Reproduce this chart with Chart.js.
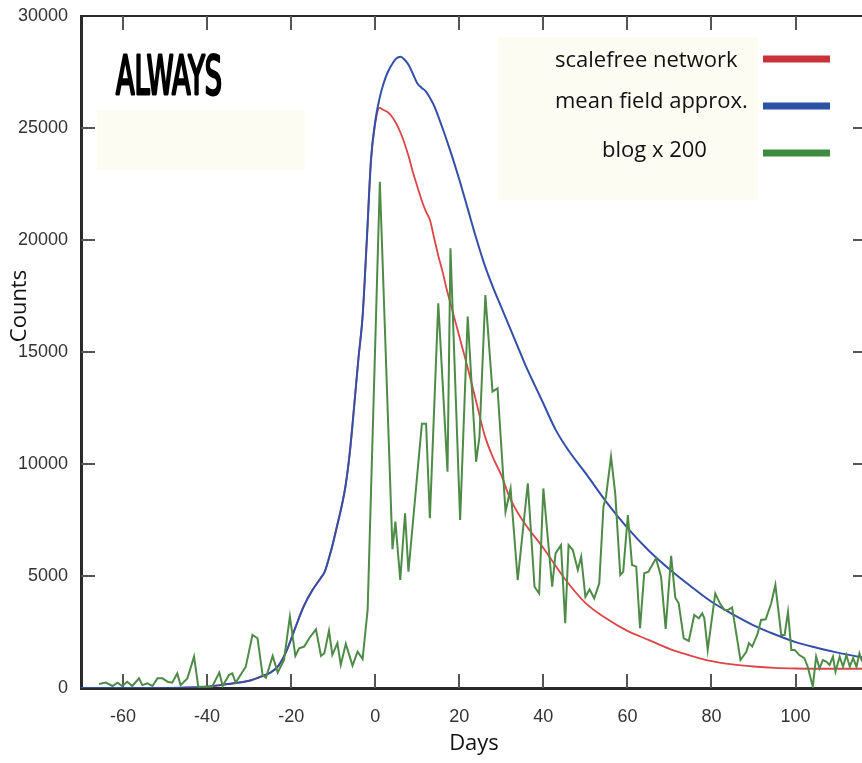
<!DOCTYPE html>
<html>
<head>
<meta charset="utf-8">
<title>ALWAYS</title>
<script src="https://cdn.jsdelivr.net/npm/chart.js@4.4.1/dist/chart.umd.min.js"></script>
<style>
  html, body { margin: 0; padding: 0; background: #fff; overflow: hidden; }
  #wrap { width: 875px; height: 763px; }
</style>
</head>
<body>
<div id="wrap"><canvas id="chart" width="875" height="763"></canvas></div>
<script>
// Panel label and axis ticks
const panelLabel = 'ALWAYS';
const dayTicks = [-60, -40, -20, 0, 20, 40, 60, 80, 100];
const countTicks = [0, 5000, 10000, 15000, 20000, 25000, 30000];

// Shared onset of both model curves (they coincide until the peak)
const onsetDays   = [-70, -50, -45, -40, -35, -30, -27, -25, -23, -21, -19, -17, -15, -13, -12, -11, -10, -9, -8, -7, -6, -5, -4, -3, -2, -1];
const onsetCounts = [0, 0, 20, 60, 180, 320, 520, 680, 1000, 1700, 2700, 3650, 4350, 4900, 5200, 5800, 6500, 7300, 8100, 9100, 10600, 12600, 14700, 16600, 20000, 23600];

// scalefree network (after onset)
const scalefreeDays   = [0, 1, 2, 3, 4, 5, 6, 7, 8, 9, 10, 11, 12, 13, 14, 15, 16, 17, 18, 19, 20, 22, 24, 26, 28, 30, 32, 35, 40, 45, 50, 55, 60, 65, 70, 75, 80, 85, 90, 95, 100, 105, 110, 117];
const scalefreeCounts = [25200, 25900, 25800, 25700, 25500, 25200, 24800, 24300, 23700, 23000, 22400, 21800, 21300, 20900, 20100, 19300, 18600, 17800, 17100, 16400, 15700, 14300, 12800, 11300, 10300, 9500, 8500, 7500, 6250, 4900, 3800, 3100, 2550, 2150, 1750, 1450, 1200, 1050, 960, 900, 870, 860, 860, 860];

// mean field approx. (after onset)
const meanFieldDays   = [0, 1, 2, 3, 4, 5, 6, 7, 8, 9, 10, 11, 12, 13, 14, 16, 18, 20, 22, 24, 26, 28, 30, 32, 34, 36, 38, 40, 43, 46, 50, 55, 60, 65, 70, 75, 80, 85, 90, 95, 100, 105, 110, 115, 117];
const meanFieldCounts = [25300, 26300, 27000, 27500, 27850, 28100, 28180, 28050, 27800, 27400, 27000, 26800, 26650, 26350, 26000, 25000, 23900, 22700, 21400, 20100, 18900, 17900, 17000, 16100, 15200, 14300, 13500, 12700, 11500, 10600, 9600, 8300, 7150, 6150, 5300, 4550, 3850, 3300, 2800, 2400, 2050, 1800, 1580, 1400, 1350];

// blog x 200
const blogDays = [
  -65.7, -64.1, -62.5, -61.3, -60.2, -59.0, -57.8, -56.2, -55.4, -54.2, -53.0, -51.8, -50.6, -49.4, -48.3, -47.1, -46.3, -44.7, -43.1, -42.1,
  -40.3, -38.8, -37.1, -36.3, -34.8, -34.0, -33.2, -30.8, -29.2, -28.0, -26.8, -26.0, -24.4, -23.2, -21.7, -20.3, -19.0, -18.1, -16.9, -15.7,
  -14.1, -12.9, -12.1, -11.0, -10.2, -9.0, -8.2, -7.0, -5.4, -4.2, -3.0, -1.8, 1.1, 4.1, 4.8, 5.95, 7.1, 7.9, 11.1, 12.1,
  13.0, 15.0, 17.2, 17.9, 20.2, 22.0, 24.0, 24.8, 26.2, 27.9, 29.1, 31.0, 32.2, 33.9, 36.3, 37.9, 39.0, 40.0, 42.1, 42.9,
  44.2, 45.2, 46.0, 47.0, 48.2, 49.0, 50.0, 51.0, 52.1, 53.3, 54.3, 54.9, 56.1, 57.1, 58.3, 59.0, 60.1, 61.1, 62.1, 63.0,
  64.0, 65.0, 66.8, 68.0, 69.1, 70.4, 71.4, 72.2, 73.4, 74.6, 75.9, 77.0, 77.8, 78.3, 79.1, 80.9, 82.0, 83.1, 83.9, 84.9,
  86.9, 88.3, 88.9, 89.7, 91.0, 91.8, 92.9, 94.2, 95.2, 96.6, 97.4, 98.2, 99.0, 99.8, 100.9, 102.1, 102.9, 104.1, 104.9, 105.7,
  106.5, 107.3, 108.1, 108.9, 109.5, 110.5, 111.3, 112.1, 112.9, 113.7, 114.5, 115.2, 115.7, 116.5, 117.2
];
const blogCounts = [
  180, 240, 90, 240, 90, 280, 90, 430, 130, 210, 90, 430, 430, 280, 240, 650, 130, 430, 1400, 60,
  60, 60, 690, 90, 580, 650, 240, 950, 2370, 2220, 580, 460, 1430, 690, 1250, 3190, 1430, 1770, 1850, 2220,
  2620, 1430, 1550, 2560, 1480, 2000, 1030, 1970, 1000, 1620, 1300, 3500, 22600, 6200, 7430, 4820, 7800, 5190, 11800, 11800,
  7580, 17170, 9660, 19630, 7500, 16580, 10100, 11220, 17540, 13230, 13380, 7870, 8910, 4820, 9140, 4520, 4220, 8910, 4520, 6010,
  6380, 2890, 6380, 6160, 5270, 5860, 4070, 4400, 4000, 4670, 8100, 8540, 10330, 8690, 5040, 5190, 7720, 5490, 5420, 2670,
  5120, 5190, 5790, 4970, 2640, 5900, 4030, 3780, 2220, 2100, 3260, 3110, 3330, 3110, 1700, 4220, 3780, 3480, 3480, 3600,
  1250, 1620, 2000, 1850, 2440, 3040, 3070, 3780, 4600, 2370, 2370, 3400, 1700, 1700, 1470, 1330, 950, 60, 1400, 880,
  1250, 1180, 1030, 1400, 730, 1400, 950, 1470, 950, 1330, 950, 1550, 1250, 1000, 1200
];

function toPoints(xs, ys) {
    return xs.map((x, i) => ({ x: x, y: ys[i] }));
}

Chart.defaults.font.family = '"Liberation Sans", Arial, sans-serif';
Chart.defaults.color = '#333';

// Inward tick marks on all four sides of the frame
const frameTicks = {
    id: 'frameTicks',
    beforeDatasetsDraw(chart) {
        const { ctx, chartArea: a, scales: { x, y } } = chart;
        ctx.save();
        ctx.strokeStyle = '#555';
        ctx.lineWidth = 2;
        ctx.beginPath();
        x.ticks.forEach(t => {
            const px = Math.round(x.getPixelForValue(t.value));
            ctx.moveTo(px, a.top);
            ctx.lineTo(px, a.top + 14);
            ctx.moveTo(px, a.bottom);
            ctx.lineTo(px, a.bottom - 14);
        });
        y.ticks.forEach(t => {
            if (t.value <= y.min || t.value >= y.max) return;
            const py = Math.round(y.getPixelForValue(t.value));
            ctx.moveTo(a.left, py);
            ctx.lineTo(a.left + 14, py);
            ctx.moveTo(a.right, py);
            ctx.lineTo(a.right - 14, py);
        });
        ctx.stroke();
        ctx.restore();
    }
};

// Panel label, side legend and y title
const decorations = {
    id: 'decorations',
    beforeDatasetsDraw(chart) {
        const ctx = chart.ctx;
        ctx.save();
        ctx.fillStyle = '#fcfcf3';
        ctx.fillRect(498, 37, 260, 163);
        ctx.fillRect(97, 110, 208, 60);
        ctx.restore();
    },
    afterDatasetsDraw(chart) {
        const ctx = chart.ctx;

        ctx.save();
        ctx.fillStyle = '#000';
        ctx.strokeStyle = '#000';
        ctx.lineWidth = 3;
        ctx.lineJoin = 'round';
        ctx.font = '55px "DejaVu Sans Condensed", "DejaVu Sans", sans-serif';
        ctx.textBaseline = 'alphabetic';
        const w = ctx.measureText(panelLabel).width;
        ctx.translate(116, 94);
        ctx.scale(106 / w, 0.97);
        ctx.fillText(panelLabel, 0, 0);
        ctx.strokeText(panelLabel, 0, 0);
        ctx.restore();

        // legend rows
        const textX = [555, 555, 602];
        const baseY = [67, 108, 157];
        const barY = [59, 106, 153];
        ctx.save();
        ctx.font = '22px "Open Sans", "Noto Sans", sans-serif';
        ctx.fillStyle = '#111';
        ctx.textBaseline = 'alphabetic';
        chart.data.datasets.forEach((ds, i) => {
            ctx.fillText(ds.label, textX[i], baseY[i]);
            ctx.strokeStyle = ds.legendColor;
            ctx.lineWidth = 7;
            ctx.beginPath();
            ctx.moveTo(763, barY[i]);
            ctx.lineTo(830, barY[i]);
            ctx.stroke();
        });
        ctx.restore();

        ctx.save();
        ctx.font = '22px "Open Sans", "Noto Sans", sans-serif';
        ctx.fillStyle = '#111';
        ctx.textAlign = 'center';
        ctx.textBaseline = 'middle';
        ctx.translate(20, 306);
        ctx.rotate(-Math.PI / 2);
        ctx.fillText('Counts', 0, 0);
        ctx.restore();
    }
};

new Chart(document.getElementById('chart'), {
    type: 'line',
    data: {
        datasets: [
            {
                label: 'scalefree network',
                data: toPoints(onsetDays.concat(scalefreeDays), onsetCounts.concat(scalefreeCounts)),
                borderColor: '#dc4646',
                legendColor: '#c93238',
                borderWidth: 1.8,
                cubicInterpolationMode: 'monotone',
                pointRadius: 0,
                order: 3
            },
            {
                label: 'mean field approx.',
                data: toPoints(onsetDays.concat(meanFieldDays), onsetCounts.concat(meanFieldCounts)),
                borderColor: '#3350a9',
                legendColor: '#2a52a5',
                borderWidth: 2,
                cubicInterpolationMode: 'monotone',
                pointRadius: 0,
                order: 2
            },
            {
                label: 'blog x 200',
                data: toPoints(blogDays, blogCounts),
                borderColor: '#4d8b46',
                legendColor: '#3f8b3d',
                borderWidth: 2,
                tension: 0,
                pointRadius: 0,
                order: 1
            }
        ]
    },
    options: {
        responsive: false,
        animation: false,
        layout: { padding: 0 },
        plugins: {
            legend: { display: false },
            tooltip: { enabled: false }
        },
        scales: {
            x: {
                type: 'linear',
                position: 'bottom',
                min: -70,
                max: 117,
                afterBuildTicks: axis => { axis.ticks = dayTicks.map(v => ({ value: v })); },
                afterFit: axis => { axis.height = 75; },
                ticks: {
                    padding: 18,
                    font: { size: 18 },
                    color: '#333'
                },
                grid: { drawOnChartArea: false, drawTicks: false },
                border: { color: '#2a2a2a', width: 3 },
                title: {
                    display: true,
                    text: 'Days',
                    color: '#111',
                    font: { family: '"Open Sans", "Noto Sans", sans-serif', size: 22 },
                    padding: { top: 0, bottom: 6 }
                }
            },
            x2: {
                type: 'linear',
                position: 'top',
                min: -70,
                max: 117,
                afterFit: axis => { axis.height = 16; },
                ticks: { display: false },
                grid: { drawOnChartArea: false, drawTicks: false },
                border: { color: '#2a2a2a', width: 2 }
            },
            y: {
                type: 'linear',
                position: 'left',
                min: 0,
                max: 30000,
                afterBuildTicks: axis => { axis.ticks = countTicks.map(v => ({ value: v })); },
                afterFit: axis => {
                    axis.width = 81;
                    axis.paddingTop = 0;
                    axis.paddingBottom = 0;
                },
                ticks: {
                    padding: 13,
                    font: { size: 18 },
                    color: '#333',
                    callback: v => String(v)
                },
                grid: { drawOnChartArea: false, drawTicks: false },
                border: { color: '#2a2a2a', width: 3 }
            },
            y2: {
                type: 'linear',
                position: 'right',
                min: 0,
                max: 30000,
                afterFit: axis => { axis.width = 8; },
                ticks: { display: false },
                grid: { drawOnChartArea: false, drawTicks: false },
                border: { color: '#2a2a2a', width: 2 }
            }
        }
    },
    plugins: [frameTicks, decorations]
});
</script>
</body>
</html>
